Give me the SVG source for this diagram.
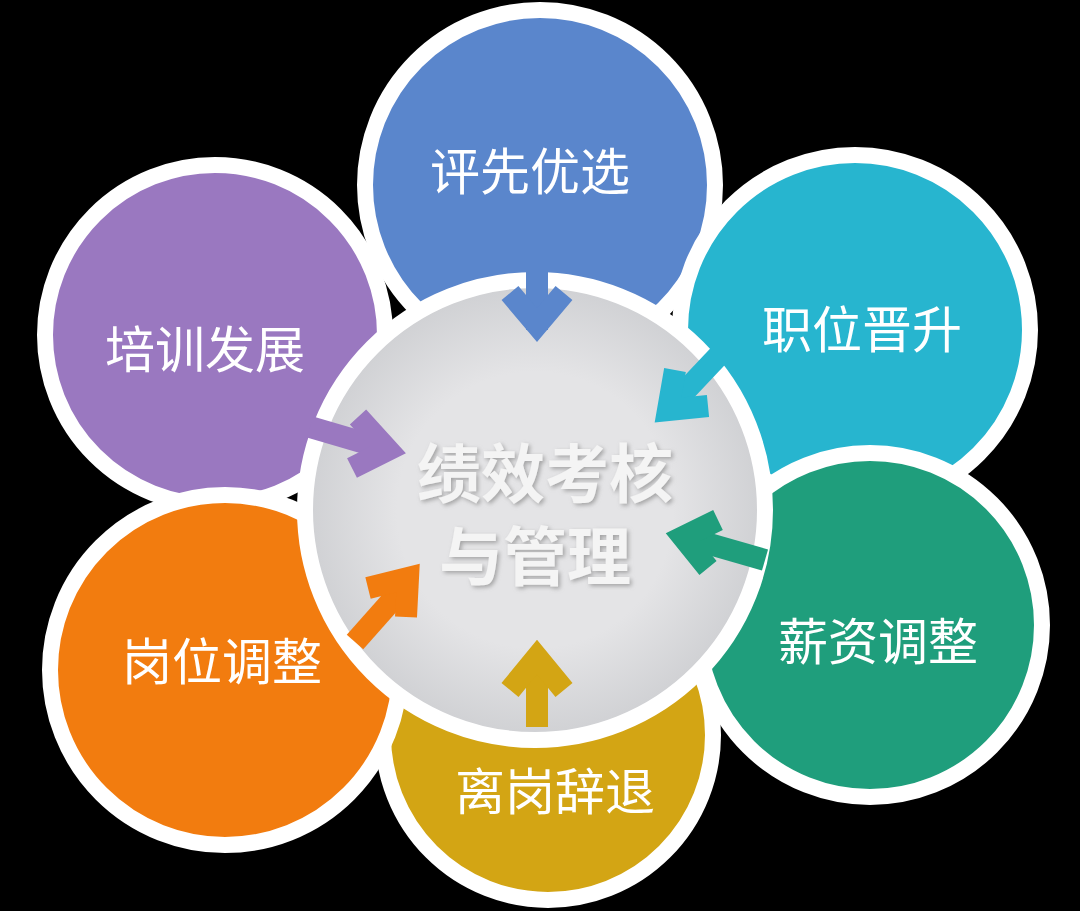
<svg xmlns="http://www.w3.org/2000/svg" width="1080" height="911" viewBox="0 0 1080 911">
<defs>
<style>
.ring{stroke:#fff;stroke-width:16}
.lbl{font-family:"Noto Sans CJK SC","Noto Sans",sans-serif;font-size:50px;fill:#fff;text-anchor:middle}
.ctr{font-family:"Noto Sans CJK SC","Noto Sans",sans-serif;font-size:64px;font-weight:bold;fill:#f4f4f4;text-anchor:middle}
.arr{fill:none;stroke-width:22;stroke-linecap:butt;stroke-linejoin:miter}
</style>
<radialGradient id="cg" cx="0.5" cy="0.5" r="0.5"><stop offset="0.6" stop-color="#e4e4e6"/><stop offset="1" stop-color="#cfd0d3"/></radialGradient>
<filter id="sh"><feDropShadow dx="2" dy="2" stdDeviation="2" flood-color="#888" flood-opacity="0.7"/></filter>
</defs>
<rect width="1080" height="911" fill="#000"/>
<g id="n-purple"><circle class="ring" cx="215" cy="335" r="170" fill="#9a78c0"/><text class="lbl" x="205" y="368">培训发展</text></g>
<g id="n-blue"><circle class="ring" cx="540" cy="185" r="175" fill="#5a86cc"/><text class="lbl" x="530" y="190">评先优选</text></g>
<g id="n-cyan"><circle class="ring" cx="855" cy="330" r="175" fill="#27b5cf"/><text class="lbl" x="862" y="348">职位晋升</text></g>
<g id="n-yellow"><circle class="ring" cx="548" cy="735" r="165" fill="#d3a514"/><text class="lbl" x="555" y="810">离岗辞退</text></g>
<g id="n-orange"><circle class="ring" cx="225" cy="670" r="175" fill="#f27c0f"/><text class="lbl" x="222" y="680">岗位调整</text></g>
<g id="n-teal"><circle class="ring" cx="870" cy="625" r="172" fill="#1f9e7c"/><text class="lbl" x="878" y="660">薪资调整</text></g>
<g id="n-center"><circle class="ring" cx="535" cy="510" r="230" fill="url(#cg)"/>
<text class="ctr" filter="url(#sh)" x="545" y="497">绩效考核</text><text class="ctr" filter="url(#sh)" x="535" y="580">与管理</text></g>
<g id="connectors">
<g stroke="#5a86cc"><line class="arr" x1="537" y1="252" x2="537" y2="330"/><polyline class="arr" points="510,293 537,325 564,293"/></g>
<g stroke="#27b5cf"><line class="arr" x1="722" y1="352" x2="672" y2="405"/><polyline class="arr" points="675,370 668,410 708,406"/></g>
<g stroke="#9a78c0"><line class="arr" x1="310" y1="427" x2="385" y2="449"/><polyline class="arr" points="358,417 388,450 352,468"/></g>
<g stroke="#1f9e7c"><line class="arr" x1="765" y1="560" x2="685" y2="537"/><polyline class="arr" points="718,520 683,537 708,568"/></g>
<g stroke="#f27c0f"><line class="arr" x1="355" y1="642" x2="410" y2="580"/><polyline class="arr" points="368,588 408,578 406,617"/></g>
<g stroke="#d3a514"><line class="arr" x1="537" y1="727" x2="537" y2="655"/><polyline class="arr" points="510,690 537,657 564,690"/></g>
</g>
</svg>
